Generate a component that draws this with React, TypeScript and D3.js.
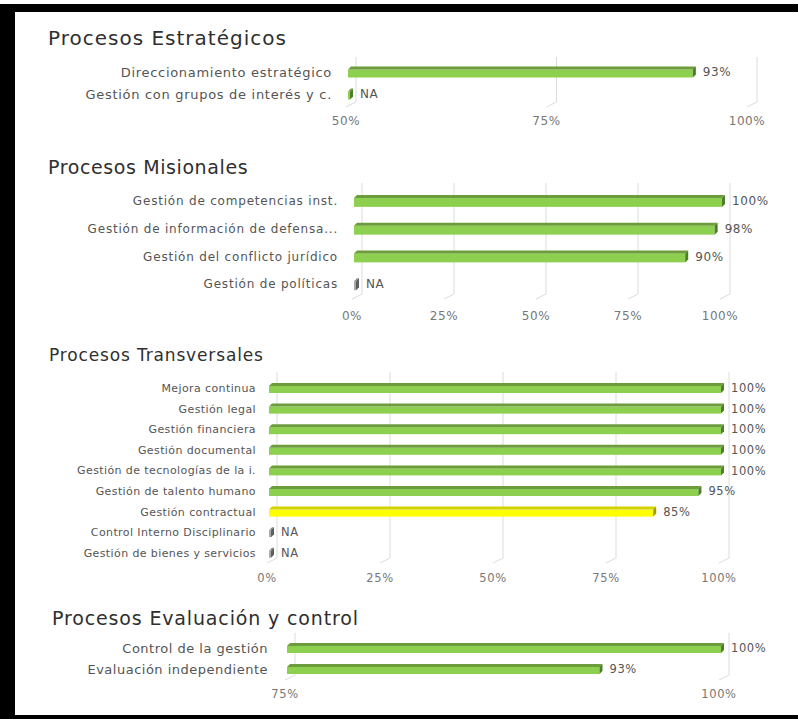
import React from 'react';
import * as d3 from 'd3';

const estrategicosCats = ['Direccionamiento estratégico', 'Gestión con grupos de interés y c.'];
const estrategicosVals: (number | null)[] = [93, null];
const estrategicosTicks = [50, 75, 100];

const misionalesCats = [
    'Gestión de competencias inst.',
    'Gestión de información de defensa...',
    'Gestión del conflicto jurídico',
    'Gestión de políticas',
];
const misionalesVals: (number | null)[] = [100, 98, 90, null];
const misionalesTicks = [0, 25, 50, 75, 100];

const transversalesCats = [
    'Mejora continua',
    'Gestión legal',
    'Gestión financiera',
    'Gestión documental',
    'Gestión de tecnologías de la i.',
    'Gestión de talento humano',
    'Gestión contractual',
    'Control Interno Disciplinario',
    'Gestión de bienes y servicios',
];
const transversalesVals: (number | null)[] = [100, 100, 100, 100, 100, 95, 85, null, null];
const transversalesTicks = [0, 25, 50, 75, 100];

const evaluacionCats = ['Control de la gestión', 'Evaluación independiente'];
const evaluacionVals: (number | null)[] = [100, 93];
const evaluacionTicks = [75, 100];

// umbral del semáforo: por debajo -> amarillo
const UMBRAL = 90;

const FONT = '"DejaVu Sans", sans-serif';
const GREEN = {front: '#8dcf4e', top: '#6c9c3b', side: '#4f7d2a'};
const YELLOW = {front: '#ffff00', top: '#d2d200', side: '#9e9e00'};
const GRAY = {front: '#a8a8a8', top: '#8a8a8a', side: '#5e5e5e'};

interface Layout {
    titleX: number;
    titleY: number;
    titleSize: number;
    titleLs: number;
    labelRight: number;
    labelSize: number;
    labelLs: number;
    x: [number, number]; // plano de fondo (rejilla)
    band: [number, number];
    barH: number;
    gridTop: number;
    gridBottom: number;
    tickY: number;
    tickSize: number;
    naColors: typeof GREEN;
}

interface SectionProps {
    title: string;
    cats: string[];
    vals: (number | null)[];
    ticks: number[];
    lay: Layout;
}

const DEPTH = 3;
const FRONT_DX = -8;
const NA_W = 2; // ancho del "muñón" para NA

const Section: React.FC<SectionProps> = ({title, cats, vals, ticks, lay}) => {
    const x = d3.scaleLinear()
        .domain([ticks[0], ticks[ticks.length - 1]])
        .range(lay.x);
    const front = (v: number) => x(v) + FRONT_DX;
    const y = d3.scaleBand<string>().domain(cats).range(lay.band);
    const fmt = (v: number) => `${v}%`;

    return (
        <g>
            <text x={lay.titleX} y={lay.titleY} dy="0.36em" fontFamily={FONT} fontSize={lay.titleSize}
                  letterSpacing={lay.titleLs} fill="#2f2f2f">{title}</text>

            {/* rejilla con piso en perspectiva */}
            {ticks.map(t => (
                <g key={t} stroke="#dcdcdc" strokeWidth={1} fill="none">
                    <line x1={x(t)} x2={x(t)} y1={lay.gridTop} y2={lay.gridBottom}/>
                    <line x1={x(t)} x2={x(t) - 10} y1={lay.gridBottom} y2={lay.gridBottom + 5}/>
                </g>
            ))}
            {ticks.map(t => (
                <text key={'t' + t} x={x(t) - 10} y={lay.tickY} dy="0.36em" textAnchor="middle"
                      fontFamily={FONT} fontSize={lay.tickSize} letterSpacing={0.6} fill="#777">{fmt(t)}</text>
            ))}

            {cats.map((c, i) => {
                const v = vals[i];
                const cy = (y(c) ?? 0) + y.bandwidth() / 2;
                const yT = cy - lay.barH / 2;
                const yB = cy + lay.barH / 2;
                const x0 = front(ticks[0]);
                const x1 = v == null ? x0 + NA_W : front(v);
                const col = v == null ? lay.naColors : v < UMBRAL ? YELLOW : GREEN;
                return (
                    <g key={c}>
                        <text x={lay.labelRight} y={cy} dy="0.36em" textAnchor="end" fontFamily={FONT}
                              fontSize={lay.labelSize} letterSpacing={lay.labelLs} fill="#555">{c}</text>
                        <rect x={x0} y={yT + DEPTH} width={x1 - x0} height={lay.barH - DEPTH}
                              fill={col.front}/>
                        <polygon
                            points={`${x0},${yT + DEPTH} ${x0 + DEPTH},${yT} ${x1 + DEPTH},${yT} ${x1},${yT + DEPTH}`}
                            fill={col.top}/>
                        <polygon
                            points={`${x1},${yT + DEPTH} ${x1 + DEPTH},${yT} ${x1 + DEPTH},${yB - DEPTH} ${x1},${yB}`}
                            fill={col.side}/>
                        <text x={x1 + (v == null ? 10 : 10)} y={cy} dy="0.36em" fontFamily={FONT}
                              fontSize={lay.tickSize} letterSpacing={0.6} fill="#555">
                            {v == null ? 'NA' : fmt(v)}
                        </text>
                    </g>
                );
            })}
        </g>
    );
};

const layEstrategicos: Layout = {
    titleX: 48, titleY: 38, titleSize: 20, titleLs: 1.0,
    labelRight: 332, labelSize: 13, labelLs: 0.7,
    x: [356, 757], band: [61, 105], barH: 11,
    gridTop: 57, gridBottom: 102, tickY: 121, tickSize: 12, naColors: GREEN,
};
const layMisionales: Layout = {
    titleX: 48, titleY: 167, titleSize: 19, titleLs: 0.6,
    labelRight: 338, labelSize: 12, labelLs: 0.8,
    x: [362, 730], band: [187, 298], barH: 12,
    gridTop: 183, gridBottom: 294, tickY: 316, tickSize: 12, naColors: GRAY,
};
const layTransversales: Layout = {
    titleX: 49, titleY: 355, titleSize: 17, titleLs: 0.85,
    labelRight: 256, labelSize: 11, labelLs: 0.4,
    x: [277, 729], band: [377.7, 563.1], barH: 10,
    gridTop: 372, gridBottom: 558, tickY: 578, tickSize: 11.5, naColors: GRAY,
};
const layEvaluacion: Layout = {
    titleX: 52, titleY: 618, titleSize: 19, titleLs: 0.85,
    labelRight: 268, labelSize: 13, labelLs: 0.5,
    x: [295, 729], band: [637.5, 679.5], barH: 10,
    gridTop: 633, gridBottom: 675, tickY: 694, tickSize: 11.5, naColors: GRAY,
};

export default function App() {
    const W = 798;
    const H = 719;
    return (
        <svg width={W} height={H} viewBox={`0 0 ${W} ${H}`}
             style={{position: 'absolute', left: 0, top: 0, background: '#fff'}}>
            <rect x={0} y={0} width={W} height={H} fill="#fff"/>
            {/* marco negro de la captura */}
            <rect x={0} y={4} width={W} height={8} fill="#000"/>
            <rect x={0} y={4} width={15} height={H - 4} fill="#000"/>
            <rect x={0} y={715} width={W} height={4} fill="#000"/>

            <Section title="Procesos Estratégicos" cats={estrategicosCats} vals={estrategicosVals}
                     ticks={estrategicosTicks} lay={layEstrategicos}/>
            <Section title="Procesos Misionales" cats={misionalesCats} vals={misionalesVals}
                     ticks={misionalesTicks} lay={layMisionales}/>
            <Section title="Procesos Transversales" cats={transversalesCats} vals={transversalesVals}
                     ticks={transversalesTicks} lay={layTransversales}/>
            <Section title="Procesos Evaluación y control" cats={evaluacionCats} vals={evaluacionVals}
                     ticks={evaluacionTicks} lay={layEvaluacion}/>
        </svg>
    );
}
